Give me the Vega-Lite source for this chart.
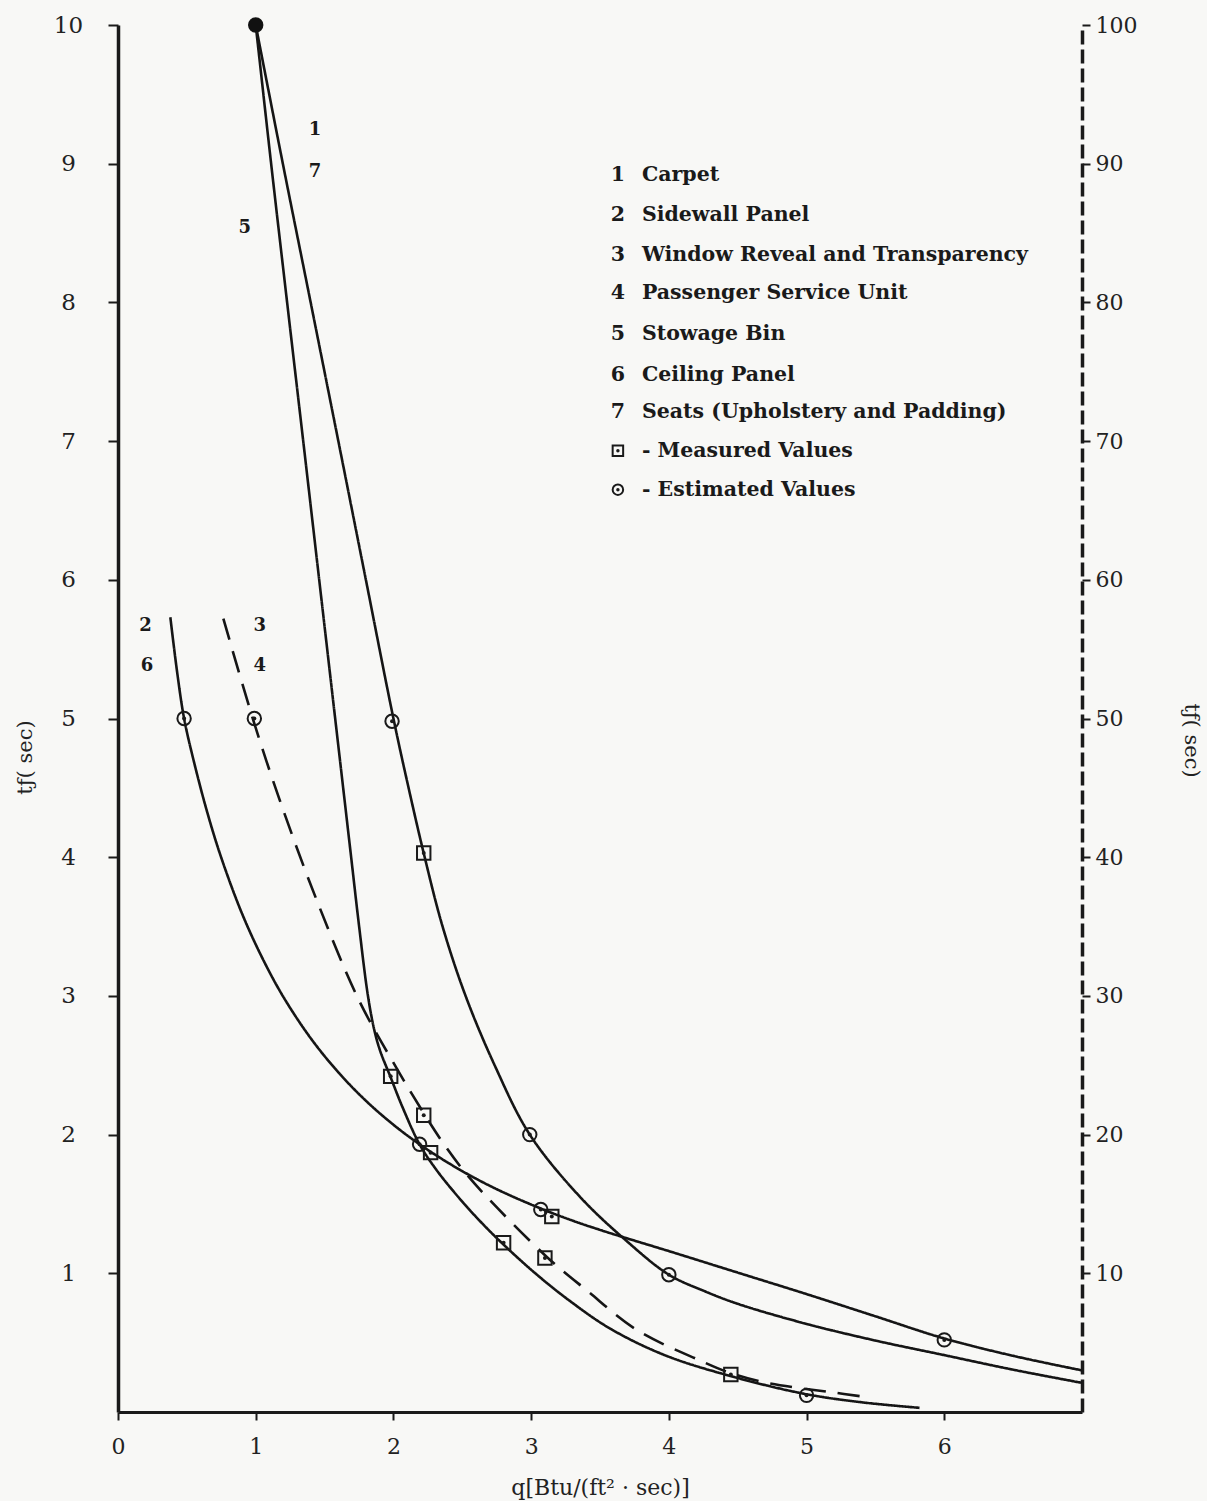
{
  "$schema": "https://vega.github.io/schema/vega-lite/v6.json",
  "width": 964,
  "height": 1387,
  "autosize": {"type": "none"},
  "padding": {"left": 118, "top": 25, "right": 125, "bottom": 89},
  "background": "#f8f8f6",
  "config": {"view": {"stroke": null}, "font": "DejaVu Serif"},
  "datasets": {
    "curves": [
      {"curve": "1,7", "q": 1.0, "t": 10.0},
      {"curve": "1,7", "q": 1.197, "t": 9.0},
      {"curve": "1,7", "q": 1.399, "t": 8.0},
      {"curve": "1,7", "q": 1.6, "t": 7.0},
      {"curve": "1,7", "q": 1.8, "t": 6.0},
      {"curve": "1,7", "q": 2.0, "t": 5.0},
      {"curve": "1,7", "q": 2.11, "t": 4.5},
      {"curve": "1,7", "q": 2.227, "t": 4.0},
      {"curve": "1,7", "q": 2.357, "t": 3.5},
      {"curve": "1,7", "q": 2.524, "t": 3.0},
      {"curve": "1,7", "q": 2.735, "t": 2.5},
      {"curve": "1,7", "q": 2.99, "t": 2.0},
      {"curve": "1,7", "q": 3.356, "t": 1.55},
      {"curve": "1,7", "q": 3.685, "t": 1.24},
      {"curve": "1,7", "q": 4.0, "t": 0.99},
      {"curve": "1,7", "q": 4.25, "t": 0.875},
      {"curve": "1,7", "q": 4.5, "t": 0.78},
      {"curve": "1,7", "q": 5.0, "t": 0.635},
      {"curve": "1,7", "q": 5.5, "t": 0.515},
      {"curve": "1,7", "q": 6.0, "t": 0.41},
      {"curve": "1,7", "q": 6.5, "t": 0.305},
      {"curve": "1,7", "q": 7.0, "t": 0.21},
      {"curve": "5", "q": 1.0, "t": 10.0},
      {"curve": "5", "q": 1.112, "t": 9.0},
      {"curve": "5", "q": 1.228, "t": 8.0},
      {"curve": "5", "q": 1.345, "t": 7.0},
      {"curve": "5", "q": 1.461, "t": 6.0},
      {"curve": "5", "q": 1.577, "t": 5.0},
      {"curve": "5", "q": 1.693, "t": 4.0},
      {"curve": "5", "q": 1.751, "t": 3.5},
      {"curve": "5", "q": 1.815, "t": 3.0},
      {"curve": "5", "q": 1.862, "t": 2.75},
      {"curve": "5", "q": 1.905, "t": 2.6},
      {"curve": "5", "q": 1.977, "t": 2.42},
      {"curve": "5", "q": 2.065, "t": 2.2},
      {"curve": "5", "q": 2.19, "t": 1.93},
      {"curve": "5", "q": 2.309, "t": 1.75},
      {"curve": "5", "q": 2.471, "t": 1.55},
      {"curve": "5", "q": 2.628, "t": 1.377},
      {"curve": "5", "q": 2.788, "t": 1.218},
      {"curve": "5", "q": 3.03, "t": 1.0},
      {"curve": "5", "q": 3.282, "t": 0.8},
      {"curve": "5", "q": 3.576, "t": 0.6},
      {"curve": "5", "q": 3.97, "t": 0.41},
      {"curve": "5", "q": 4.445, "t": 0.26},
      {"curve": "5", "q": 4.99, "t": 0.13},
      {"curve": "5", "q": 5.4, "t": 0.07},
      {"curve": "5", "q": 5.82, "t": 0.03},
      {"curve": "2,6", "q": 0.38, "t": 5.73},
      {"curve": "2,6", "q": 0.43, "t": 5.33},
      {"curve": "2,6", "q": 0.48, "t": 5.0},
      {"curve": "2,6", "q": 0.55, "t": 4.694},
      {"curve": "2,6", "q": 0.65, "t": 4.317},
      {"curve": "2,6", "q": 0.75, "t": 3.996},
      {"curve": "2,6", "q": 0.9, "t": 3.595},
      {"curve": "2,6", "q": 1.05, "t": 3.269},
      {"curve": "2,6", "q": 1.2, "t": 2.994},
      {"curve": "2,6", "q": 1.4, "t": 2.694},
      {"curve": "2,6", "q": 1.6, "t": 2.449},
      {"curve": "2,6", "q": 1.8, "t": 2.244},
      {"curve": "2,6", "q": 2.0, "t": 2.071},
      {"curve": "2,6", "q": 2.19, "t": 1.93},
      {"curve": "2,6", "q": 2.4, "t": 1.795},
      {"curve": "2,6", "q": 2.6, "t": 1.682},
      {"curve": "2,6", "q": 2.8, "t": 1.583},
      {"curve": "2,6", "q": 3.07, "t": 1.467},
      {"curve": "2,6", "q": 3.3, "t": 1.38},
      {"curve": "2,6", "q": 3.5, "t": 1.313},
      {"curve": "2,6", "q": 3.7, "t": 1.251},
      {"curve": "2,6", "q": 4.0, "t": 1.16},
      {"curve": "2,6", "q": 4.5, "t": 1.005},
      {"curve": "2,6", "q": 5.0, "t": 0.85},
      {"curve": "2,6", "q": 5.5, "t": 0.69},
      {"curve": "2,6", "q": 6.0, "t": 0.53},
      {"curve": "2,6", "q": 6.5, "t": 0.405},
      {"curve": "2,6", "q": 7.0, "t": 0.3},
      {"curve": "3,4", "q": 0.765, "t": 5.72},
      {"curve": "3,4", "q": 0.985, "t": 4.98},
      {"curve": "3,4", "q": 1.175, "t": 4.41},
      {"curve": "3,4", "q": 1.443, "t": 3.69},
      {"curve": "3,4", "q": 1.749, "t": 2.97},
      {"curve": "3,4", "q": 2.028, "t": 2.47},
      {"curve": "3,4", "q": 2.224, "t": 2.148},
      {"curve": "3,4", "q": 2.366, "t": 1.932},
      {"curve": "3,4", "q": 2.518, "t": 1.73},
      {"curve": "3,4", "q": 2.693, "t": 1.535},
      {"curve": "3,4", "q": 3.114, "t": 1.118},
      {"curve": "3,4", "q": 3.4, "t": 0.88},
      {"curve": "3,4", "q": 3.77, "t": 0.59},
      {"curve": "3,4", "q": 4.23, "t": 0.37},
      {"curve": "3,4", "q": 4.45, "t": 0.28},
      {"curve": "3,4", "q": 4.71, "t": 0.21},
      {"curve": "3,4", "q": 5.2, "t": 0.14},
      {"curve": "3,4", "q": 5.42, "t": 0.11}
    ],
    "points": [
      {"q": 1.0, "t": 10.0, "type": "Estimated"},
      {"q": 0.48, "t": 5.0, "type": "Estimated"},
      {"q": 0.99, "t": 5.0, "type": "Estimated"},
      {"q": 1.99, "t": 4.98, "type": "Estimated"},
      {"q": 2.19, "t": 1.93, "type": "Estimated"},
      {"q": 2.99, "t": 2.0, "type": "Estimated"},
      {"q": 3.07, "t": 1.46, "type": "Estimated"},
      {"q": 4.0, "t": 0.99, "type": "Estimated"},
      {"q": 6.0, "t": 0.52, "type": "Estimated"},
      {"q": 5.0, "t": 0.12, "type": "Estimated"},
      {"q": 2.22, "t": 4.03, "type": "Measured"},
      {"q": 1.98, "t": 2.42, "type": "Measured"},
      {"q": 2.22, "t": 2.14, "type": "Measured"},
      {"q": 2.27, "t": 1.87, "type": "Measured"},
      {"q": 2.8, "t": 1.22, "type": "Measured"},
      {"q": 3.1, "t": 1.11, "type": "Measured"},
      {"q": 3.15, "t": 1.41, "type": "Measured"},
      {"q": 4.45, "t": 0.27, "type": "Measured"}
    ],
    "curveLabels": [
      {"label": "1", "q": 1.43, "t": 9.24},
      {"label": "7", "q": 1.43, "t": 8.94},
      {"label": "5", "q": 0.92, "t": 8.54},
      {"label": "2", "q": 0.2, "t": 5.67},
      {"label": "6", "q": 0.21, "t": 5.38},
      {"label": "3", "q": 1.03, "t": 5.67},
      {"label": "4", "q": 1.03, "t": 5.38}
    ],
    "legend": [
      {"num": "1", "text": "Carpet", "q": 3.63, "t": 8.92},
      {"num": "2", "text": "Sidewall Panel", "q": 3.63, "t": 8.63},
      {"num": "3", "text": "Window Reveal and Transparency", "q": 3.63, "t": 8.34},
      {"num": "4", "text": "Passenger Service Unit", "q": 3.63, "t": 8.07},
      {"num": "5", "text": "Stowage Bin", "q": 3.63, "t": 7.77},
      {"num": "6", "text": "Ceiling Panel", "q": 3.63, "t": 7.48},
      {"num": "7", "text": "Seats (Upholstery and Padding)", "q": 3.63, "t": 7.21},
      {"num": "", "type": "Measured", "text": "- Measured Values", "q": 3.63, "t": 6.93},
      {"num": "", "type": "Estimated", "text": "- Estimated Values", "q": 3.63, "t": 6.65}
    ]
  },
  "layer": [
    {
      "encoding": {
        "x": {
          "field": "q", "type": "quantitative",
          "scale": {"domain": [0, 7], "nice": false, "zero": false},
          "axis": {
            "values": [0, 1, 2, 3, 4, 5, 6],
            "title": "q[Btu/(ft² · sec)]",
            "grid": false,
            "domainColor": "#1a1a1a", "domainWidth": 3,
            "tickColor": "#1a1a1a", "tickWidth": 2, "tickSize": 8,
            "labelFont": "DejaVu Serif", "labelFontSize": 22, "labelColor": "#222",
            "labelPadding": 16, "labelFlush": false,
            "titleFont": "DejaVu Serif", "titleFontSize": 22, "titleFontWeight": "normal", "titleColor": "#222",
            "titlePadding": 20
          }
        },
        "y": {
          "field": "t", "type": "quantitative",
          "scale": {"domain": [0, 10], "nice": false},
          "axis": {
            "values": [1, 2, 3, 4, 5, 6, 7, 8, 9, 10],
            "title": "tƒ( sec)",
            "grid": false,
            "domainColor": "#1a1a1a", "domainWidth": 3.5,
            "tickColor": "#1a1a1a", "tickWidth": 2, "tickSize": 10,
            "labelFont": "DejaVu Serif", "labelFontSize": 23, "labelColor": "#222",
            "labelAlign": "center", "labelPadding": 40, "labelFlush": false,
            "titleFont": "DejaVu Serif", "titleFontSize": 21, "titleFontWeight": "normal", "titleColor": "#222",
            "titleX": -93, "titleY": 732, "titleBaseline": "middle", "titleAngle": -90
          }
        }
      },
      "layer": [
        {
          "data": {"name": "curves"},
          "mark": {"type": "line", "interpolate": "catmull-rom", "strokeWidth": 2.6, "color": "#151515"},
          "encoding": {
            "detail": {"field": "curve", "type": "nominal"},
            "strokeDash": {
              "field": "curve", "type": "nominal",
              "scale": {"domain": ["1,7", "5", "2,6", "3,4"], "range": [[1, 0], [1, 0], [1, 0], [22, 12]]},
              "legend": null
            }
          }
        },
        {
          "data": {"name": "points"},
          "mark": {"type": "point", "filled": false, "strokeWidth": 2, "color": "#1a1a1a", "size": 180, "opacity": 1},
          "encoding": {
            "shape": {"field": "type", "type": "nominal", "scale": {"domain": ["Measured", "Estimated"], "range": ["square", "circle"]}, "legend": null}
          }
        },
        {
          "data": {"name": "points"},
          "mark": {"type": "circle", "color": "#1a1a1a", "size": 16, "opacity": 1}
        },
        {
          "data": {"name": "points"},
          "transform": [{"filter": "datum.t >= 10"}],
          "mark": {"type": "circle", "color": "#111", "size": 200, "opacity": 1}
        },
        {
          "data": {"name": "curveLabels"},
          "mark": {"type": "text", "font": "DejaVu Serif", "fontSize": 18, "fontWeight": "bold", "color": "#1a1a1a", "align": "center", "baseline": "middle"},
          "encoding": {"text": {"field": "label"}}
        },
        {
          "data": {"name": "legend"},
          "mark": {"type": "text", "font": "DejaVu Serif", "fontSize": 20.5, "fontWeight": "bold", "color": "#1a1a1a", "align": "center", "baseline": "middle"},
          "encoding": {"text": {"field": "num"}}
        },
        {
          "data": {"name": "legend"},
          "mark": {"type": "text", "font": "DejaVu Serif", "fontSize": 20.5, "fontWeight": "bold", "color": "#1a1a1a", "align": "left", "baseline": "middle", "dx": 24},
          "encoding": {"text": {"field": "text"}}
        },
        {
          "data": {"name": "legend"},
          "transform": [{"filter": "datum.type != null"}],
          "mark": {"type": "point", "filled": false, "strokeWidth": 2, "color": "#1a1a1a", "size": 110, "opacity": 1},
          "encoding": {
            "shape": {"field": "type", "type": "nominal", "scale": {"domain": ["Measured", "Estimated"], "range": ["square", "circle"]}, "legend": null}
          }
        },
        {
          "data": {"name": "legend"},
          "transform": [{"filter": "datum.type != null"}],
          "mark": {"type": "circle", "color": "#1a1a1a", "size": 12, "opacity": 1}
        }
      ]
    },
    {
      "data": {"name": "points"},
      "mark": {"type": "point", "opacity": 0},
      "encoding": {
        "y": {
          "field": "t", "type": "quantitative",
          "scale": {"domain": [0, 100], "nice": false},
          "axis": {
            "orient": "right",
            "values": [10, 20, 30, 40, 50, 60, 70, 80, 90, 100],
            "title": "tƒ( sec)",
            "grid": false,
            "domainColor": "#1a1a1a", "domainWidth": 3.5, "domainDash": [14, 5],
            "tickColor": "#1a1a1a", "tickWidth": 2, "tickSize": 8,
            "labelFont": "DejaVu Serif", "labelFontSize": 22, "labelColor": "#222",
            "labelPadding": 5, "labelFlush": false,
            "titleFont": "DejaVu Serif", "titleFontSize": 21, "titleFontWeight": "normal", "titleColor": "#222",
            "titleX": 108, "titleY": 715, "titleBaseline": "middle", "titleAngle": 90
          }
        }
      }
    }
  ],
  "resolve": {"scale": {"y": "independent"}}
}
